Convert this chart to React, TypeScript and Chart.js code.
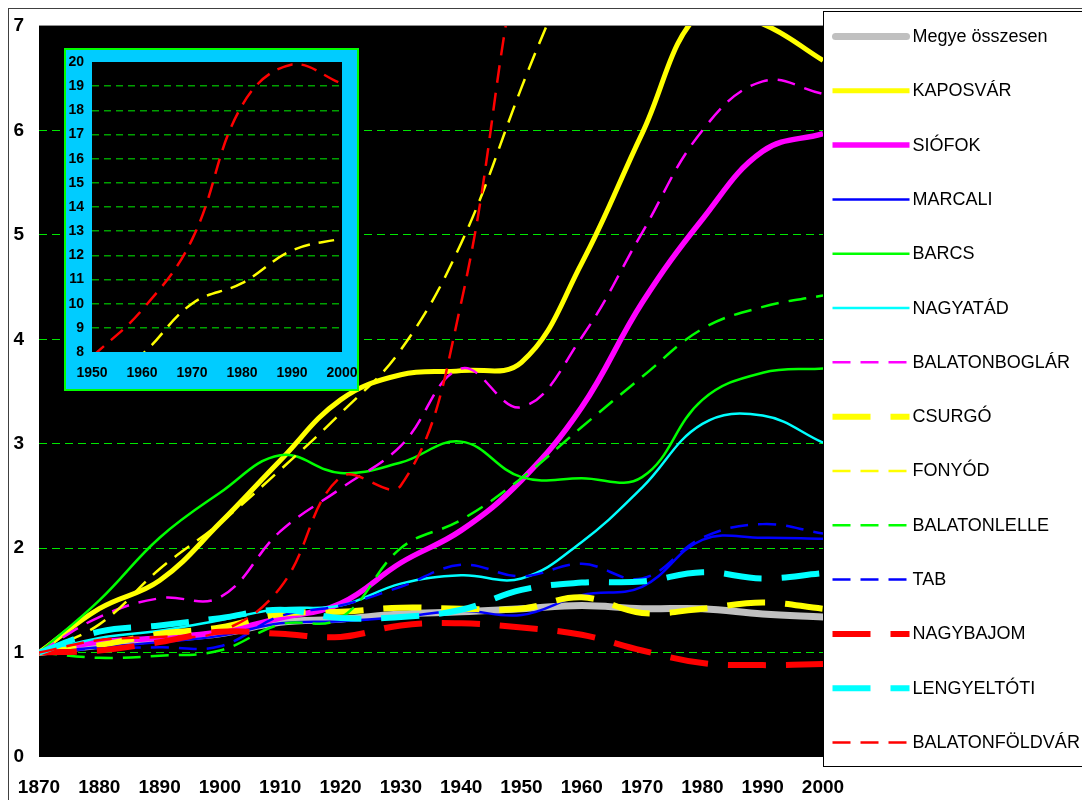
import React, { useEffect, useRef } from 'react';
import { Chart, registerables } from 'chart.js';

Chart.register(...registerables);

const years = ['1870', '1880', '1890', '1900', '1910', '1920', '1930', '1940', '1950', '1960', '1970', '1980', '1990', '2000'];
const yTicks = [0, 1, 2, 3, 4, 5, 6, 7];
const insetFrom = 8; // inset shows 1950..2000

const megye = [1.0, 1.07, 1.13, 1.18, 1.29, 1.32, 1.37, 1.39, 1.42, 1.45, 1.42, 1.42, 1.37, 1.34];
const kaposvar = [1.0, 1.42, 1.69, 2.24, 2.84, 3.42, 3.66, 3.7, 3.78, 4.73, 5.97, 7.15, 7.02, 6.67];
const siofok = [1.0, 1.1, 1.14, 1.2, 1.33, 1.47, 1.86, 2.17, 2.65, 3.35, 4.35, 5.15, 5.8, 5.97];
const marcali = [1.0, 1.05, 1.1, 1.16, 1.28, 1.3, 1.34, 1.4, 1.36, 1.55, 1.63, 2.08, 2.1, 2.09];
const barcs = [1.0, 1.5, 2.1, 2.53, 2.89, 2.72, 2.82, 3.02, 2.68, 2.67, 2.68, 3.42, 3.68, 3.72];
const nagyatad = [1.0, 1.14, 1.21, 1.31, 1.42, 1.45, 1.66, 1.74, 1.71, 2.06, 2.58, 3.19, 3.27, 3.01];
const balatonboglar = [1.0, 1.34, 1.52, 1.53, 2.16, 2.57, 2.98, 3.72, 3.35, 4.02, 5.02, 6.0, 6.47, 6.35];
const csurgo = [1.0, 1.07, 1.18, 1.24, 1.37, 1.39, 1.43, 1.42, 1.42, 1.53, 1.38, 1.42, 1.48, 1.42];
const fonyod = [1.0, 1.27, 1.8, 2.24, 2.75, 3.29, 3.9, 4.92, 6.41, 7.9, 10.0, 10.85, 12.2, 12.7];
const balatonlelle = [1.0, 0.95, 0.97, 1.02, 1.27, 1.33, 2.0, 2.27, 2.67, 3.16, 3.64, 4.1, 4.31, 4.42];
const tab = [1.0, 1.04, 1.05, 1.06, 1.35, 1.45, 1.63, 1.84, 1.73, 1.85, 1.71, 2.1, 2.23, 2.14];
const nagybajom = [1.0, 1.02, 1.1, 1.2, 1.18, 1.15, 1.26, 1.28, 1.24, 1.17, 1.02, 0.9, 0.88, 0.89];
const lengyeltoti = [1.0, 1.2, 1.26, 1.33, 1.41, 1.33, 1.34, 1.41, 1.6, 1.67, 1.68, 1.77, 1.71, 1.76];
const balatonfoldvar = [1.0, 1.12, 1.15, 1.2, 1.62, 2.68, 2.6, 4.35, 7.8, 9.74, 12.65, 18.2, 19.9, 19.1];

const insetYTicks = [8, 9, 10, 11, 12, 13, 14, 15, 16, 17, 18, 19, 20];

const FONT = 'Arial, "Liberation Sans", sans-serif';
const THIN_DASH = [18, 10];
const THICK_DASH = [38, 20];

type S = { label: string; data: number[]; color: string; width: number; dash: number[]; cap?: CanvasLineCap };

const seriesDefs: S[] = [
  { label: 'Megye összesen', data: megye, color: '#C0C0C0', width: 7, dash: [], cap: 'round' },
  { label: 'KAPOSVÁR', data: kaposvar, color: '#FFFF00', width: 5, dash: [] },
  { label: 'SIÓFOK', data: siofok, color: '#FF00FF', width: 5.5, dash: [] },
  { label: 'MARCALI', data: marcali, color: '#0000FF', width: 2.5, dash: [] },
  { label: 'BARCS', data: barcs, color: '#00FF00', width: 2.5, dash: [] },
  { label: 'NAGYATÁD', data: nagyatad, color: '#00FFFF', width: 2.5, dash: [] },
  { label: 'BALATONBOGLÁR', data: balatonboglar, color: '#FF00FF', width: 2.5, dash: THIN_DASH },
  { label: 'CSURGÓ', data: csurgo, color: '#FFFF00', width: 6, dash: THICK_DASH },
  { label: 'FONYÓD', data: fonyod, color: '#FFFF00', width: 2.5, dash: THIN_DASH },
  { label: 'BALATONLELLE', data: balatonlelle, color: '#00FF00', width: 2.5, dash: THIN_DASH },
  { label: 'TAB', data: tab, color: '#0000FF', width: 2.5, dash: THIN_DASH },
  { label: 'NAGYBAJOM', data: nagybajom, color: '#FF0000', width: 6, dash: THICK_DASH },
  { label: 'LENGYELTÓTI', data: lengyeltoti, color: '#00FFFF', width: 6, dash: THICK_DASH },
  { label: 'BALATONFÖLDVÁR', data: balatonfoldvar, color: '#FF0000', width: 2.5, dash: THIN_DASH },
];

const blackPlot = {
  id: 'blackPlot',
  beforeDraw(chart: any) {
    const { ctx, chartArea: a } = chart;
    ctx.save();
    ctx.fillStyle = '#000000';
    ctx.fillRect(a.left, a.top, a.right - a.left, a.bottom - a.top);
    ctx.restore();
  },
};

const plotFrame = {
  id: 'plotFrame',
  afterDraw(chart: any) {
    const { ctx, chartArea: a } = chart;
    ctx.save();
    ctx.strokeStyle = '#909090';
    ctx.lineWidth = 1;
    ctx.beginPath();
    ctx.moveTo(Math.round(a.left), Math.round(a.top) - 0.5);
    ctx.lineTo(Math.round(a.right), Math.round(a.top) - 0.5);
    ctx.stroke();
    ctx.restore();
  },
};

const sideLegend = {
  id: 'sideLegend',
  afterDraw(chart: any) {
    const { ctx, chartArea: a } = chart;
    const left = Math.round(a.right) + 0.5;
    const top = 11.5;
    const bottom = 766.5;
    ctx.save();
    ctx.fillStyle = '#FFFFFF';
    ctx.fillRect(left, top, 400, bottom - top);
    ctx.strokeStyle = '#000000';
    ctx.lineWidth = 1;
    ctx.strokeRect(left, top, 400, bottom - top);
    ctx.font = '18px ' + FONT;
    ctx.textBaseline = 'middle';
    ctx.textAlign = 'left';
    const n = chart.data.datasets.length;
    const step = (bottom - top - 49) / (n - 1);
    chart.data.datasets.forEach((ds: any, i: number) => {
      const y = top + 25 + i * step;
      ctx.save();
      ctx.strokeStyle = ds.borderColor;
      ctx.lineWidth = ds.borderWidth;
      ctx.lineCap = ds.borderCapStyle || 'butt';
      ctx.setLineDash(ds.borderDash || []);
      ctx.beginPath();
      const x0 = left + 9 + (ds.borderCapStyle === 'round' ? 3 : 0);
      const x1 = left + 86 - (ds.borderCapStyle === 'round' ? 3 : 0);
      ctx.moveTo(x0, y);
      ctx.lineTo(x1, y);
      ctx.stroke();
      ctx.restore();
      ctx.fillStyle = '#000000';
      ctx.fillText(ds.label, left + 89, y + 0.5);
    });
    ctx.restore();
  },
};

const fixX = (h: number) => (s: any) => {
  s.height = h;
  s.paddingLeft = 0;
  s.paddingRight = 0;
};
const fixY = (w: number) => (s: any) => {
  s.width = w;
  s.paddingTop = 0;
  s.paddingBottom = 0;
};

export default function App() {
  const mainRef = useRef<HTMLCanvasElement>(null);
  const insetRef = useRef<HTMLCanvasElement>(null);

  useEffect(() => {
    const datasets = seriesDefs.map((s, i) => ({
      label: s.label,
      data: s.data,
      borderColor: s.color,
      backgroundColor: s.color,
      borderWidth: s.width,
      borderDash: s.dash,
      borderCapStyle: s.cap || 'butt',
      pointRadius: 0,
      pointHoverRadius: 0,
      tension: 0.4,
      fill: false,
      clip: 0,
      order: seriesDefs.length - i,
    }));

    const main = new Chart(mainRef.current as HTMLCanvasElement, {
      type: 'line',
      data: { labels: years, datasets: datasets as any },
      options: {
        responsive: false,
        animation: false,
        events: [],
        layout: { autoPadding: false, padding: { left: 0, top: 26, right: 259, bottom: 0 } },
        plugins: { legend: { display: false }, tooltip: { enabled: false } },
        scales: {
          x: {
            type: 'category',
            offset: false,
            grid: { display: false, drawTicks: false },
            border: { display: false },
            ticks: {
              autoSkip: false,
              maxRotation: 0,
              padding: 19,
              color: '#000000',
              font: { family: FONT, size: 19, weight: 'bold' },
            },
            afterFit: fixX(43),
          },
          y: {
            min: yTicks[0],
            max: yTicks[yTicks.length - 1],
            afterBuildTicks: (s: any) => { s.ticks = yTicks.map((v) => ({ value: v })); },
            grid: {
              drawTicks: false,
              lineWidth: 1,
              color: (c: any) => (c.tick && (c.tick.value === yTicks[0] || c.tick.value === yTicks[yTicks.length - 1]) ? 'rgba(0,0,0,0)' : '#00E600'),
            },
            border: { display: false, dash: [8, 5] },
            ticks: {
              padding: 15,
              color: '#000000',
              font: { family: FONT, size: 19, weight: 'bold' },
            },
            afterFit: fixY(39),
          },
        },
      } as any,
      plugins: [blackPlot, plotFrame, sideLegend],
    });

    const insetSeries = [seriesDefs[8], seriesDefs[13]];
    const inset = new Chart(insetRef.current as HTMLCanvasElement, {
      type: 'line',
      data: {
        labels: years.slice(insetFrom),
        datasets: insetSeries.map((s) => ({
          label: s.label,
          data: s.data.slice(insetFrom),
          borderColor: s.color,
          borderWidth: 2.5,
          borderDash: [16, 9],
          pointRadius: 0,
          pointHoverRadius: 0,
          tension: 0.4,
          fill: false,
          clip: 0,
        })) as any,
      },
      options: {
        responsive: false,
        animation: false,
        events: [],
        layout: { autoPadding: false, padding: { left: 0, top: 12, right: 15, bottom: 0 } },
        plugins: { legend: { display: false }, tooltip: { enabled: false } },
        scales: {
          x: {
            type: 'category',
            offset: false,
            grid: { display: false, drawTicks: false },
            border: { display: false },
            ticks: {
              autoSkip: false,
              maxRotation: 0,
              padding: 13,
              color: '#000000',
              font: { family: FONT, size: 14, weight: 'bold' },
            },
            afterFit: fixX(37),
          },
          y: {
            min: insetYTicks[0],
            max: insetYTicks[insetYTicks.length - 1],
            afterBuildTicks: (s: any) => { s.ticks = insetYTicks.map((v) => ({ value: v })); },
            grid: {
              drawTicks: false,
              lineWidth: 1.5,
              color: (c: any) => (c.tick && (c.tick.value === insetYTicks[0] || c.tick.value === insetYTicks[insetYTicks.length - 1]) ? 'rgba(0,0,0,0)' : '#00A000'),
            },
            border: { display: false, dash: [7, 5] },
            ticks: {
              padding: 8,
              color: '#000000',
              font: { family: FONT, size: 14, weight: 'bold' },
            },
            afterFit: fixY(26),
          },
        },
      } as any,
      plugins: [blackPlot],
    });

    return () => {
      main.destroy();
      inset.destroy();
    };
  }, []);

  return (
    <div style={{ position: 'fixed', left: 0, top: 0, width: 1082, height: 800, background: '#FFFFFF', overflow: 'hidden' }}>
      <div style={{ position: 'absolute', left: 8, top: 8, width: 1200, height: 900, borderTop: '1px solid #404040', borderLeft: '1px solid #404040' }} />
      <canvas ref={mainRef} width={1082} height={800} style={{ position: 'absolute', left: 0, top: 0 }} />
      <div style={{ position: 'absolute', left: 64, top: 48, width: 295, height: 343, boxSizing: 'border-box', border: '2px solid #00FF00', background: '#00CCFF' }}>
        <canvas ref={insetRef} width={291} height={339} style={{ position: 'absolute', left: 0, top: 0 }} />
      </div>
    </div>
  );
}
